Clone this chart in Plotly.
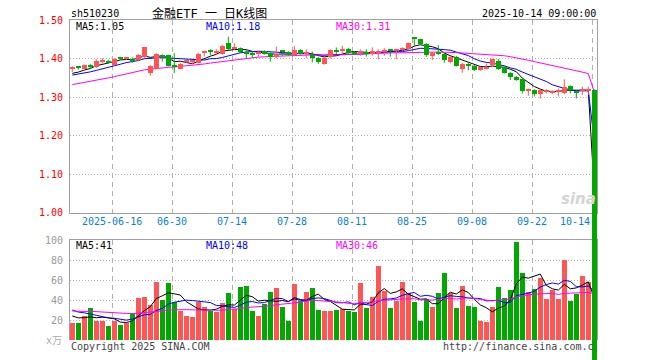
import plotly.graph_objects as go

# ---------------- data ----------------
opens = [1.375, 1.378, 1.375, 1.381, 1.378, 1.392, 1.395, 1.384, 1.402, 1.400,
         1.398, 1.397, 1.404, 1.364, 1.375, 1.410, 1.409, 1.382, 1.375, 1.392,
         1.392, 1.390, 1.416, 1.419, 1.416, 1.413, 1.442, 1.427, 1.428, 1.415,
         1.413, 1.414, 1.420, 1.415, 1.406, 1.419, 1.418, 1.410, 1.423, 1.414,
         1.410, 1.403, 1.386, 1.404, 1.421, 1.422, 1.426, 1.415, 1.416, 1.415,
         1.413, 1.417, 1.418, 1.422, 1.422, 1.422, 1.425, 1.454, 1.451, 1.439,
         1.408, 1.415, 1.413, 1.393, 1.406, 1.375, 1.388, 1.382, 1.371, 1.376,
         1.383, 1.395, 1.380, 1.364, 1.354, 1.347, 1.317, 1.319, 1.309, 1.316,
         1.312, 1.315, 1.310, 1.329, 1.314, 1.317, 1.317, 1.320]
highs = [1.381, 1.381, 1.385, 1.387, 1.399, 1.402, 1.398, 1.403, 1.405, 1.404,
         1.404, 1.413, 1.432, 1.384, 1.415, 1.412, 1.411, 1.415, 1.390, 1.396,
         1.397, 1.416, 1.418, 1.425, 1.425, 1.436, 1.458, 1.441, 1.430, 1.423,
         1.421, 1.421, 1.422, 1.417, 1.432, 1.421, 1.420, 1.434, 1.425, 1.425,
         1.419, 1.405, 1.405, 1.425, 1.430, 1.434, 1.429, 1.420, 1.425, 1.425,
         1.430, 1.425, 1.428, 1.425, 1.425, 1.430, 1.443, 1.454, 1.452, 1.441,
         1.418, 1.436, 1.415, 1.408, 1.408, 1.390, 1.390, 1.384, 1.380, 1.388,
         1.401, 1.400, 1.382, 1.366, 1.356, 1.349, 1.323, 1.321, 1.321, 1.321,
         1.318, 1.323, 1.347, 1.331, 1.318, 1.328, 1.328, 1.321]
lows = [1.366, 1.372, 1.373, 1.373, 1.376, 1.389, 1.388, 1.382, 1.397, 1.397,
        1.390, 1.395, 1.402, 1.356, 1.373, 1.393, 1.380, 1.363, 1.373, 1.389,
        1.387, 1.388, 1.406, 1.410, 1.410, 1.411, 1.423, 1.422, 1.415, 1.401,
        1.403, 1.406, 1.411, 1.393, 1.402, 1.408, 1.408, 1.408, 1.411, 1.402,
        1.391, 1.387, 1.385, 1.402, 1.413, 1.413, 1.410, 1.410, 1.408, 1.406,
        1.408, 1.399, 1.408, 1.406, 1.399, 1.420, 1.423, 1.434, 1.437, 1.405,
        1.397, 1.410, 1.390, 1.388, 1.380, 1.364, 1.370, 1.369, 1.369, 1.373,
        1.381, 1.371, 1.362, 1.345, 1.343, 1.310, 1.304, 1.302, 1.297, 1.310,
        1.308, 1.302, 1.308, 1.310, 1.297, 1.306, 1.306, 0.000]
closes = [1.376, 1.377, 1.383, 1.380, 1.395, 1.398, 1.391, 1.401, 1.401, 1.401,
          1.397, 1.410, 1.430, 1.382, 1.413, 1.406, 1.382, 1.381, 1.388, 1.393,
          1.393, 1.414, 1.417, 1.418, 1.417, 1.434, 1.425, 1.428, 1.419, 1.414,
          1.412, 1.415, 1.413, 1.406, 1.413, 1.418, 1.410, 1.422, 1.413, 1.415,
          1.402, 1.393, 1.403, 1.423, 1.420, 1.423, 1.416, 1.414, 1.417, 1.414,
          1.420, 1.418, 1.419, 1.421, 1.423, 1.428, 1.441, 1.453, 1.439, 1.410,
          1.416, 1.414, 1.396, 1.406, 1.382, 1.388, 1.382, 1.371, 1.378, 1.377,
          1.399, 1.373, 1.364, 1.352, 1.345, 1.316, 1.318, 1.309, 1.319, 1.317,
          1.313, 1.316, 1.326, 1.319, 1.313, 1.318, 1.318, 0.000]
volumes = [17.3, 17.3, 25, 32.3, 19.3, 20, 14.3, 20, 16, 17.3,
           27.3, 42.3, 43.3, 36, 58.3, 41, 57.3, 38.3, 30, 25,
           23.3, 39, 33.3, 29.3, 29, 37.3, 47.3, 31.7, 53.3, 54.3,
           30, 25, 36.3, 49, 53, 34, 19.3, 56.3, 40, 49,
           53, 31, 30, 30, 31, 32, 29.3, 28.3, 57.3, 32.3,
           43.3, 74.3, 50, 33, 40, 58.3, 48, 38.3, 19.3, 42,
           34, 48, 67.3, 48, 32.3, 55, 35, 33.3, 20, 18.3,
           34, 54, 43, 51, 99, 67.3, 49, 52, 62.3, 42,
           51, 42, 81, 40, 46.7, 65, 58.3, 0.5]
# closes / volumes before the first visible day (only feed the moving averages)
prior_close = [1.298, 1.302, 1.296, 1.305, 1.301, 1.299, 1.304, 1.297, 1.303, 1.300,
               1.306, 1.302, 1.338, 1.345, 1.352, 1.349, 1.355, 1.350, 1.358, 1.353,
               1.352, 1.355, 1.350, 1.357, 1.353, 1.361, 1.356, 1.360, 1.359]
prior_volume = [30, 25, 28, 33, 27, 24, 31, 29, 26, 35, 28, 22, 30, 27, 32, 26, 29, 31, 27, 29,
                38, 33, 41, 35, 33, 27, 24, 28, 24]

tick_index = [7, 17, 27, 37, 47, 57, 67, 77, 87]
tick_labels = ["2025-06-16", "06-30", "07-14", "07-28", "08-11", "08-25", "09-08", "09-22", "10-14"]
price_ticks = [1.0, 1.1, 1.2, 1.3, 1.4, 1.5]
volume_ticks = [20, 40, 60, 80, 100]
price_ma_labels = ["MA5:1.05", "MA10:1.18", "MA30:1.31"]
volume_ma_labels = ["MA5:41", "MA10:48", "MA30:46"]

# ---------------- styling ----------------
RED = "#ff5555"
GREEN = "#00a800"
MA_COLORS = ["#000000", "#0000ff", "#ff00ff"]
MONO = "DejaVu Sans Mono, Noto Sans CJK SC"
BORDER = "#a0a0a0"
GRID = "#b0b0b0"

W, H = 660, 360
ML, MR, MT, MB = 70, 63, 20, 0
PLOT_H = H - MT - MB
PX_PER_UNIT = 384.0          # price pixels per 1.0
PRICE_TOP_PX, PRICE_BOT_PX = 20, 213
VOL_TOP_PX, VOL_BOT_PX = 239.5, 340


def frac(p):
    return (H - MB - p) / PLOT_H


price_top = 1.5013
price_bot = price_top - (PRICE_BOT_PX - PRICE_TOP_PX) / PX_PER_UNIT
candle_bot = price_top - (H - MB - PRICE_TOP_PX) / PX_PER_UNIT

n = len(closes)
idx = list(range(n))


def moving_average(prior, values, w):
    series = list(prior) + list(values)
    k = len(prior)
    return [sum(series[k + i - w + 1:k + i + 1]) / w for i in range(len(values))]


up = [closes[i] >= opens[i] for i in idx]
min_body = 1.0 / PX_PER_UNIT

fig = go.Figure()

# candles on an invisible price axis with the same scale that covers the whole
# plot height, so the last (collapsing) candle can run down past the panel
for flag, col in ((True, RED), (False, GREEN)):
    wx, wy = [], []
    for i in idx:
        if up[i] == flag:
            wx += [i, i, None]
            wy += [lows[i], highs[i], None]
    fig.add_trace(go.Scatter(x=wx, y=wy, mode="lines", line=dict(color=col, width=1),
                             hoverinfo="skip", showlegend=False, xaxis="x3", yaxis="y3"))
for flag, col in ((True, RED), (False, GREEN)):
    bx, bb, bh = [], [], []
    for i in idx:
        if up[i] == flag:
            bx.append(i)
            bb.append(min(opens[i], closes[i]))
            bh.append(max(abs(closes[i] - opens[i]), min_body))
    fig.add_trace(go.Bar(x=bx, y=bh, base=bb, width=0.8, marker=dict(color=col, line=dict(width=0)),
                         showlegend=False, xaxis="x3", yaxis="y3"))

# price moving averages
for w, col in zip((5, 10, 30), MA_COLORS):
    fig.add_trace(go.Scatter(x=idx, y=moving_average(prior_close, closes, w), mode="lines",
                             line=dict(color=col, width=1), showlegend=False, xaxis="x", yaxis="y"))

# volume bars
fig.add_trace(go.Bar(x=idx, y=volumes, width=0.8,
                     marker=dict(color=[RED if u else GREEN for u in up], line=dict(width=0)),
                     showlegend=False, xaxis="x2", yaxis="y2"))
for w, col in zip((5, 10, 30), MA_COLORS):
    fig.add_trace(go.Scatter(x=idx, y=moving_average(prior_volume, volumes, w), mode="lines",
                             line=dict(color=col, width=1), showlegend=False, xaxis="x2", yaxis="y2"))

grid_x = [t - 0.33 for t in tick_index]
xrange = [-0.38, 87.45]

fig.update_layout(
    width=W, height=H,
    margin=dict(l=ML, r=MR, t=MT, b=MB, autoexpand=False),
    paper_bgcolor="white", plot_bgcolor="rgba(0,0,0,0)",
    barmode="overlay", bargap=0,
    showlegend=False, hovermode=False,
    font=dict(family=MONO, size=10, color="#000"),
    xaxis=dict(domain=[0, 1], anchor="y", range=xrange, tickvals=grid_x, showticklabels=False,
               ticks="", showgrid=True, gridcolor=GRID, griddash="5px,4px", gridwidth=1,
               showline=True, mirror=True, linecolor=BORDER, linewidth=1, zeroline=False),
    yaxis=dict(domain=[frac(PRICE_BOT_PX), frac(PRICE_TOP_PX)], range=[price_bot, price_top], tickvals=price_ticks,
               ticktext=["%.2f" % v for v in price_ticks], tickfont=dict(color="#ff0000", size=10, family=MONO),
               ticks="", ticklabelstandoff=4, showgrid=True, gridcolor=GRID, griddash="1px,2px",
               showline=True, mirror=True, linecolor=BORDER, linewidth=1, zeroline=False),
    xaxis2=dict(domain=[0, 1], anchor="y2", range=xrange, tickvals=grid_x, showticklabels=False,
                ticks="", side="top", showgrid=True, gridcolor=GRID, griddash="5px,4px",
                showline=True, linecolor=BORDER, linewidth=1, zeroline=False),
    yaxis2=dict(domain=[frac(VOL_BOT_PX), frac(VOL_TOP_PX)], range=[0, 100.5], tickvals=volume_ticks,
                ticktext=[str(v) for v in volume_ticks], tickfont=dict(color="#999999", size=10, family=MONO),
                ticks="", ticklabelstandoff=4, showgrid=True, gridcolor=GRID, griddash="1px,2px",
                showline=True, mirror=True, linecolor=BORDER, linewidth=1, zeroline=False),
    xaxis3=dict(domain=[0, 1], anchor="y3", range=xrange, visible=False, showgrid=False),
    yaxis3=dict(domain=[0, 1], range=[candle_bot, price_top], visible=False, showgrid=False),
)


def px_x(p):
    return (p - ML) / float(W - ML - MR)


ann = []
ann.append(dict(text="sh510230", x=px_x(69), y=frac(13), xanchor="left"))
ann.append(dict(text="金融ETF 一 日K线图", x=px_x(209.5), y=frac(13), xanchor="center",
                font=dict(size=12, family=MONO, color="#000")))
ann.append(dict(text="2025-10-14 09:00:00", x=px_x(598), y=frac(13), xanchor="right"))
for lab, xp, col in zip(price_ma_labels, (74, 204, 334), MA_COLORS):
    ann.append(dict(text=lab, x=px_x(xp), y=frac(26), xanchor="left", font=dict(color=col, size=10, family=MONO)))
for lab, xp, col in zip(volume_ma_labels, (74, 204, 334), MA_COLORS):
    ann.append(dict(text=lab, x=px_x(xp), y=frac(245.5), xanchor="left", font=dict(color=col, size=10, family=MONO)))
ann.append(dict(text="Copyright 2025 SINA.COM", x=px_x(69), y=frac(346), xanchor="left",
                font=dict(color="#444444", size=10, family=MONO)))
ann.append(dict(text="http://finance.sina.com.c", x=px_x(441), y=frac(346), xanchor="left",
                font=dict(color="#444444", size=10, family=MONO)))
ann.append(dict(text="x万", x=px_x(64), y=frac(340.5), xanchor="right",
                font=dict(color="#aaaaaa", size=10, family=MONO)))
ann.append(dict(text="<b><i>sina</i></b>", x=px_x(578), y=frac(199), xanchor="center",
                font=dict(color="#d4d4d4", size=15, family="DejaVu Sans")))

for a in ann:
    a.update(xref="paper", yref="paper", yanchor="middle", showarrow=False)
    a.setdefault("font", dict(size=10, family=MONO, color="#000"))

for t, lab in zip(tick_index, tick_labels):
    last = t == tick_index[-1]
    ann.append(dict(text=lab, x=(t - 0.33), xref="x", y=frac(221.5), yref="paper",
                    xanchor="right" if last else "center", yanchor="middle", showarrow=False,
                    font=dict(color="#0a7fd0", size=10, family=MONO)))

fig.update_layout(annotations=ann)
fig.write_html("out.html", config={"displayModeBar": False})

# remove the browser's default page margin so the figure sits at (0, 0)
with open("out.html", encoding="utf-8") as fh:
    html = fh.read()
html = html.replace("<body>", '<body style="margin:0;padding:0;">', 1)
with open("out.html", "w", encoding="utf-8") as fh:
    fh.write(html)
